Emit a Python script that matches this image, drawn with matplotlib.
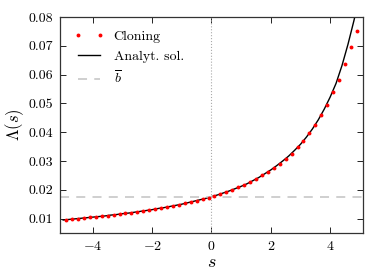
import matplotlib
matplotlib.use("Agg")
import matplotlib.pyplot as plt

plt.rcParams['font.family'] = 'serif'
plt.rcParams['font.serif'] = ['cmr10']
plt.rcParams['mathtext.fontset'] = 'cm'
plt.rcParams['axes.formatter.use_mathtext'] = True

# Cloning estimates
s_clone = [-4.9, -4.7, -4.5, -4.3, -4.1, -3.9, -3.7, -3.5, -3.3, -3.1,
           -2.9, -2.7, -2.5, -2.3, -2.1, -1.9, -1.7, -1.5, -1.3, -1.1,
           -0.9, -0.7, -0.5, -0.3, -0.1, 0.1, 0.3, 0.5, 0.7, 0.9,
           1.1, 1.3, 1.5, 1.7, 1.9, 2.1, 2.3, 2.5, 2.7, 2.9,
           3.1, 3.3, 3.5, 3.7, 3.9, 4.1, 4.3, 4.5, 4.7, 4.9]
lam_clone = [0.0096, 0.0098, 0.0100, 0.0102, 0.0104, 0.0106, 0.0108, 0.0110, 0.0113, 0.0115,
             0.0118, 0.0121, 0.0124, 0.0127, 0.0130, 0.0133, 0.0137, 0.0140, 0.0144, 0.0148,
             0.0153, 0.0157, 0.0162, 0.0168, 0.0173, 0.0179, 0.0186, 0.0192, 0.0200, 0.0208,
             0.0217, 0.0227, 0.0238, 0.0250, 0.0263, 0.0276, 0.0291, 0.0307, 0.0326, 0.0347,
             0.0369, 0.0396, 0.0425, 0.0459, 0.0496, 0.0539, 0.0583, 0.0637, 0.0696, 0.0751]

# Analytical solution
s_exact = [-5.0, -4.8, -4.6, -4.4, -4.2, -4.0, -3.8, -3.6, -3.4, -3.2,
           -3.0, -2.8, -2.6, -2.4, -2.2, -2.0, -1.8, -1.6, -1.4, -1.2,
           -1.0, -0.8, -0.6, -0.4, -0.2, 0.0, 0.2, 0.4, 0.6, 0.8,
           1.0, 1.2, 1.4, 1.6, 1.8, 2.0, 2.2, 2.4, 2.6, 2.8,
           3.0, 3.2, 3.4, 3.6, 3.8, 4.0, 4.2, 4.4, 4.6, 4.8, 4.9]
lam_exact = [0.0095, 0.0097, 0.0099, 0.0101, 0.0103, 0.0105, 0.0107, 0.0109, 0.0112, 0.0114,
             0.0117, 0.0119, 0.0122, 0.0125, 0.0128, 0.0131, 0.0135, 0.0138, 0.0142, 0.0146,
             0.0150, 0.0155, 0.0160, 0.0165, 0.0170, 0.0176, 0.0182, 0.0189, 0.0196, 0.0204,
             0.0212, 0.0221, 0.0232, 0.0243, 0.0256, 0.0269, 0.0284, 0.0300, 0.0317, 0.0337,
             0.0358, 0.0383, 0.0411, 0.0443, 0.0480, 0.0522, 0.0570, 0.0632, 0.0705, 0.0787, 0.0832]

b_bar = 0.0176

fig = plt.figure(figsize=(3.74, 2.8), dpi=100)
ax = fig.add_axes([0.161, 0.168, 0.809, 0.771])

ax.axvline(0, color='#aaaaaa', linestyle=':', linewidth=0.8)
ax.plot(s_clone, lam_clone, 'o', color='red', markersize=2.8, markeredgewidth=0,
        label='Cloning', zorder=3)
ax.plot(s_exact, lam_exact, '-', color='black', linewidth=1.0, label='Analyt. sol.', zorder=2)
ax.axhline(b_bar, color='#cccccc', linestyle='--', linewidth=1.3, dashes=(5, 4),
           label=r'$\overline{b}$')

ax.set_xlim(-5.1, 5.1)
ax.set_ylim(0.005, 0.08)
ax.set_xticks([-4, -2, 0, 2, 4])
ax.set_yticks([0.01, 0.02, 0.03, 0.04, 0.05, 0.06, 0.07, 0.08])
ax.set_yticklabels(['0.01', '0.02', '0.03', '0.04', '0.05', '0.06', '0.07', '0.08'])
ax.tick_params(direction='in', top=True, right=True, length=4, width=0.6,
               labelsize=10, pad=5)
for sp in ax.spines.values():
    sp.set_linewidth(0.9)
    sp.set_color('#333333')

ax.set_xlabel(r'$s$', fontsize=13, labelpad=1)
ax.set_ylabel(r'$\Lambda(s)$', fontsize=12, labelpad=2)

ax.legend(loc='upper left', frameon=False, fontsize=10, numpoints=2, handlelength=2.2,
          handletextpad=0.7, borderaxespad=0.55, labelspacing=0.5)

fig.savefig('out.png', dpi=100)
